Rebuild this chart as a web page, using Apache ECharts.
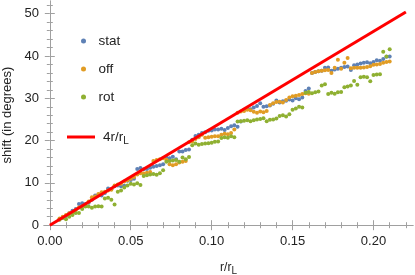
<!DOCTYPE html>
<html><head><meta charset="utf-8">
<script src="https://cdn.jsdelivr.net/npm/echarts@6/dist/echarts.min.js"></script>
<style>html,body{margin:0;padding:0;background:#fff}#c{width:415px;height:275px}</style>
</head><body><div id="c"></div>
<script>
const rVals = [0.006,0.008,0.010,0.012,0.014,0.016,0.018,0.020,0.022,0.024,
0.026,0.028,0.030,0.032,0.034,0.036,0.038,0.040,0.042,0.044,
0.046,0.048,0.050,0.052,0.054,0.056,0.058,0.060,0.062,0.064,
0.066,0.068,0.070,0.072,0.074,0.076,0.078,0.080,0.082,0.084,
0.086,0.088,0.090,0.092,0.094,0.096,0.098,0.100,0.102,0.104,
0.106,0.108,0.110,0.112,0.114,0.116,0.118,0.120,0.122,0.124,
0.126,0.128,0.130,0.132,0.134,0.136,0.138,0.140,0.142,0.144,
0.146,0.148,0.150,0.152,0.154,0.156,0.158,0.160,0.162,0.164,
0.166,0.168,0.170,0.172,0.174,0.176,0.178,0.180,0.182,0.184,
0.186,0.188,0.190,0.192,0.194,0.196,0.198,0.200,0.202,0.204,
0.206,0.208,0.210];
const statVals = [1.4,1.8,2.2,2.8,3.4,3.8,5.0,5.2,5.0,5.3,
6.0,7.0,7.2,7.0,7.6,8.7,8.5,9.2,9.4,9.2,
9.3,10.5,10.7,11.0,13.3,13.5,13.2,13.3,13.6,13.8,
14.0,14.2,14.4,16.0,15.8,16.2,15.6,17.4,17.4,17.8,
17.9,20.2,21.1,21.4,21.8,22.0,22.3,22.4,22.6,22.6,
22.8,22.5,23.0,23.4,23.6,23.3,24.5,27.3,27.6,27.4,
27.8,28.2,28.8,28.0,28.1,28.3,28.7,29.5,29.0,29.3,
29.4,29.7,29.5,30.0,29.8,30.2,31.7,32.3,36.0,36.2,
36.4,36.5,37.2,37.3,36.5,36.8,37.0,37.2,37.4,37.5,
36.7,37.8,38.0,38.2,38.4,38.5,38.3,38.6,39.0,38.9,
39.3,39.8,39.9];
const offVals = [1.6,2.0,2.4,2.8,3.0,3.6,4.2,4.4,4.8,5.6,
6.6,6.8,7.4,7.8,7.9,8.2,8.4,9.4,9.6,9.8,
10.3,10.6,11.0,11.4,12.0,12.3,12.2,12.4,12.6,15.2,
15.4,15.6,15.8,15.5,14.4,14.2,14.4,14.8,15.0,15.2,
19.6,19.8,20.4,20.8,21.4,20.7,20.8,20.9,21.0,21.0,
21.4,21.6,21.5,21.8,22.6,26.6,26.9,27.0,27.3,27.2,
26.8,26.6,26.9,26.7,27.0,28.4,28.8,29.1,29.2,29.0,
29.6,30.2,30.5,30.6,30.8,31.0,31.2,31.1,36.0,36.2,
36.4,36.5,36.6,36.7,36.0,37.2,39.1,37.0,38.4,39.5,
37.1,37.2,37.2,37.2,37.3,37.4,37.6,37.9,38.0,38.1,
38.4,38.6,38.7];
const rotVals = [1.3,1.7,1.4,2.0,2.4,2.9,2.9,3.8,4.4,4.4,
4.1,4.4,4.5,4.4,6.3,6.5,6.0,4.9,7.9,8.2,
8.9,9.4,9.8,9.6,9.9,9.5,11.6,11.8,12.0,12.1,
11.9,12.3,13.0,15.0,15.2,15.3,15.4,15.0,16.0,15.6,
16.1,18.9,19.3,19.0,19.2,19.3,19.4,19.5,19.7,19.8,
20.6,20.8,20.7,21.0,20.8,24.5,24.6,24.7,24.8,24.6,
24.8,25.0,25.1,25.3,24.6,24.9,25.0,25.2,25.8,26.0,
25.7,26.2,27.3,27.6,28.0,27.8,31.3,31.5,31.2,31.4,
31.6,33.0,33.3,31.0,31.3,31.1,31.4,31.5,32.6,32.8,
33.0,34.1,33.2,35.0,35.1,35.0,34.0,35.5,35.6,35.7,
41.0,39.9,41.6];
const lineX = [0, 0.22];
const lineY = [0, 50.42];
const xMajor = [0, 0.05, 0.10, 0.15, 0.20];
const xMinor = [0.01,0.02,0.03,0.04,0.06,0.07,0.08,0.09,0.11,0.12,0.13,0.14,0.16,0.17,0.18,0.19,0.21,0.22];
const yMajor = [0, 10, 20, 30, 40, 50];
const yMinor = [2,4,6,8,12,14,16,18,22,24,26,28,32,34,36,38,42,44,46,48,52];

const frame = '#a0a0a0';
const FONT = 'Liberation Sans';
const XMIN = -0.0036, XMAX = 0.2244, YMIN = -0.9, YMAX = 53.0;
function pairs(xs, ys){ return xs.map((x,i)=>[x, ys[i]]); }
function xAx(pos, major, show){
  return {type:'value', position:pos, min:XMIN, max:XMAX,
    axisLine:{show:show, lineStyle:{color:frame, width:1}},
    axisTick:{show:true, inside:true, length: major?5:3, customValues: major?xMajor:xMinor, lineStyle:{color:frame}},
    axisLabel:{show: major && pos==='bottom', customValues:xMajor, formatter:v=>v.toFixed(2), color:'#222', fontFamily:FONT, fontSize:13, margin:6},
    splitLine:{show:false}};
}
function yAx(pos, major, show){
  return {type:'value', position:pos, min:YMIN, max:YMAX,
    axisLine:{show:show, lineStyle:{color:frame, width:1}},
    axisTick:{show:true, inside:true, length: major?5:3, customValues: major?yMajor:yMinor, lineStyle:{color:frame}},
    axisLabel:{show: major && pos==='left', customValues:yMajor, color:'#222', fontFamily:FONT, fontSize:13, margin:5},
    splitLine:{show:false}};
}
const xAxes = [xAx('bottom',true,true), xAx('bottom',false,false), xAx('top',true,true), xAx('top',false,false)];
xAxes[0].name = '{a|r/r}{b|L}';
xAxes[0].nameLocation = 'middle';
xAxes[0].nameGap = 31;
xAxes[0].nameTextStyle = {color:'#222', fontFamily:FONT, fontSize:12, rich:{a:{fontSize:12, fontFamily:FONT, color:'#222'}, b:{fontSize:10, fontFamily:FONT, color:'#222', padding:[6,0,0,0]}}};
const yAxes = [yAx('left',true,true), yAx('left',false,false), yAx('right',true,true), yAx('right',false,false)];
yAxes[0].name = 'shift (in degrees)';
yAxes[0].nameLocation = 'middle';
yAxes[0].nameGap = 30;
yAxes[0].nameTextStyle = {color:'#222', fontFamily:FONT, fontSize:13};

const chart = echarts.init(document.getElementById('c'), null, {renderer:'canvas'});
chart.setOption({
  animation:false,
  backgroundColor:'#fff',
  grid:{left:44, right:2, top:1, bottom:46, outerBoundsMode:'none', containLabel:false},
  xAxis: xAxes,
  yAxis: yAxes,
  legend:[
    {data:['stat','off','rot'], orient:'vertical', left:81, top:33, padding:0, icon:'circle', itemWidth:20, itemHeight:5, itemGap:12,
     textStyle:{fontFamily:FONT, fontSize:13.5, color:'#222', lineHeight:16}},
    {data:['4r/rL'], orient:'vertical', left:67, top:129, padding:0, icon:'rect', itemWidth:28, itemHeight:3,
     formatter:()=>'{a|4r/r}{b|L}',
     textStyle:{fontFamily:FONT, fontSize:13.5, color:'#222', lineHeight:16,
       rich:{a:{fontSize:13.5, fontFamily:FONT, color:'#222', padding:[0,0,0,3]}, b:{fontSize:10, fontFamily:FONT, color:'#222', padding:[8,0,0,0]}}}}
  ],
  series:[
    {name:'stat', type:'scatter', data:pairs(rVals, statVals), symbolSize:4, itemStyle:{color:'#5E81B5', opacity:1}},
    {name:'off', type:'scatter', data:pairs(rVals, offVals), symbolSize:4, itemStyle:{color:'#E19C24', opacity:1}},
    {name:'rot', type:'scatter', data:pairs(rVals, rotVals), symbolSize:4, itemStyle:{color:'#8FB032', opacity:1}},
    {name:'4r/rL', type:'line', data:pairs(lineX, lineY), symbol:'none', lineStyle:{color:'#FF0000', width:3}, itemStyle:{color:'#FF0000'}, z:5}
  ]
});
</script></body></html>
